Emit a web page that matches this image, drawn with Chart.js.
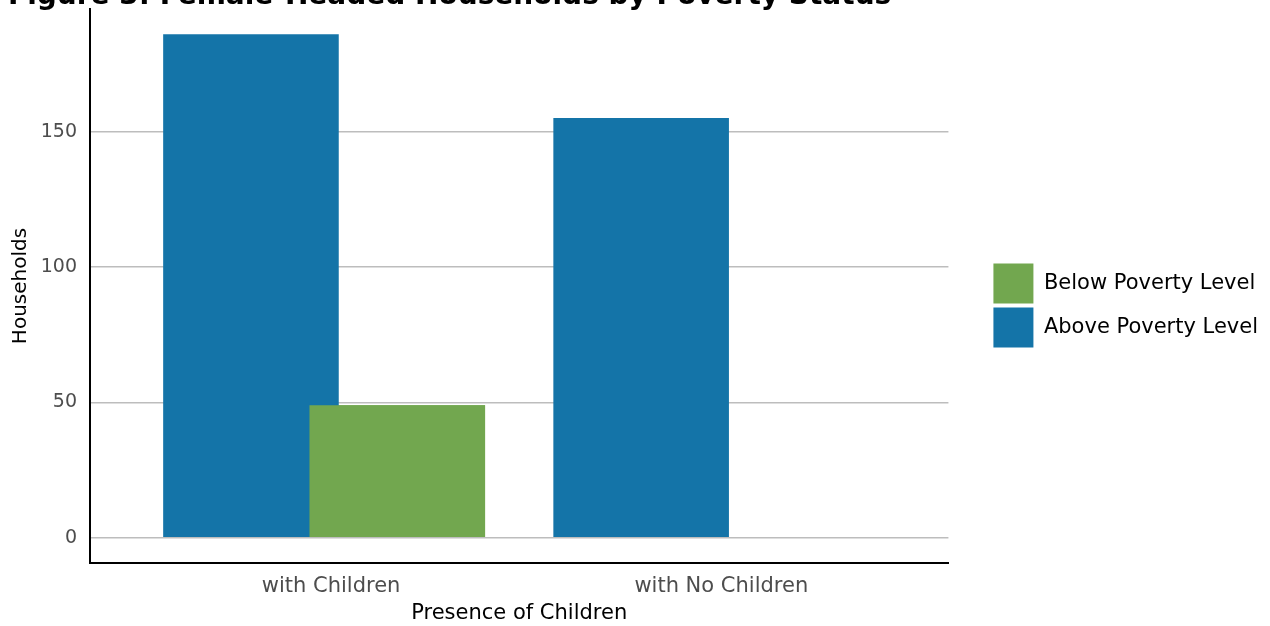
<!DOCTYPE html>
<html>
<head>
<meta charset="utf-8">
<script src="https://cdn.jsdelivr.net/npm/chart.js@4.4.1/dist/chart.umd.min.js"></script>
<style>
  html, body { margin: 0; padding: 0; background: #fff; }
  #chart { display: block; }
</style>
</head>
<body>
<canvas id="chart" width="1270" height="626"></canvas>
<script>
/* global Chart */

const categories = ['with Children', 'with No Children'];
const belowPoverty = [49, 0];
const abovePoverty = [186, 155];
const yTicks = [0, 50, 100, 150];

const TITLE = 'Figure 3: Female-Headed Households by Poverty Status';
const FONT = "'DejaVu Sans', sans-serif";
const BLUE = '#1474a8';
const GREEN = '#72a74f';

// bars sit on a numeric x axis (1, 2) so the group can be padded like a dodge plot
const toPoints = (vals) => vals.map((v, i) => ({ x: i + 1, y: v }));

// figure title, partly clipped by the top edge
const figureTitle = {
  id: 'figureTitle',
  afterDraw(chart) {
    const { ctx } = chart;
    ctx.save();
    ctx.font = `bold 28px ${FONT}`;
    ctx.fillStyle = '#000';
    ctx.textBaseline = 'alphabetic';
    ctx.textAlign = 'left';
    ctx.fillText(TITLE, 8, 4);
    ctx.restore();
  },
};

// green series is drawn over the blue one where they overlap
const greenOnTop = {
  id: 'greenOnTop',
  afterDatasetsDraw(chart) {
    const meta = chart.getDatasetMeta(1);
    if (meta.visible) meta.controller.draw();
  },
};

new Chart(document.getElementById('chart'), {
  type: 'bar',
  data: {
    datasets: [
      { label: 'Above Poverty Level', data: toPoints(abovePoverty), backgroundColor: BLUE },
      { label: 'Below Poverty Level', data: toPoints(belowPoverty), backgroundColor: GREEN },
    ],
  },
  options: {
    responsive: false,
    animation: false,
    categoryPercentage: 0.75,
    barPercentage: 1.2,
    borderWidth: 0,
    layout: { padding: { top: 9, right: 2, bottom: 24, left: 0 } },
    plugins: {
      tooltip: { enabled: false },
      legend: {
        position: 'right',
        reverse: true,
        maxWidth: 400,
        labels: {
          boxWidth: 40, boxHeight: 40, padding: 4,
          color: '#000',
          font: { family: FONT, size: 21 },
        },
      },
    },
    scales: {
      x: {
        type: 'linear',
        min: 0.4, max: 2.6,
        offset: false,
        grid: { display: false, offset: false },
        border: { display: true, color: '#000', width: 2 },
        afterBuildTicks: (s) => { s.ticks = categories.map((c, i) => ({ value: i + 1 })); },
        afterFit: (s) => { s.height = 39; s.paddingLeft = 0; s.paddingRight = 0; },
        ticks: {
          color: '#4d4d4d', padding: 3, labelOffset: 7, maxRotation: 0, autoSkip: false,
          font: { family: FONT, size: 21 },
          callback: (v) => categories[v - 1],
        },
        title: {
          display: true, text: 'Presence of Children', color: '#000',
          font: { family: FONT, size: 21 }, padding: { top: 0, bottom: -24.5 },
        },
      },
      y: {
        min: -9.3, max: 195.3,
        grid: { color: '#bdbdbd', lineWidth: 1.5, drawTicks: false },
        border: { display: true, color: '#000', width: 2 },
        afterBuildTicks: (s) => { s.ticks = yTicks.map((v) => ({ value: v })); },
        afterFit: (s) => { s.width = 90; s.paddingTop = 0; s.paddingBottom = 0; },
        ticks: { color: '#4d4d4d', padding: 13, font: { family: FONT, size: 19 } },
        title: {
          display: true, text: 'Households', color: '#000',
          font: { family: FONT, size: 20 }, padding: { top: 9, bottom: 0 },
        },
      },
      // empty spacer between the plot and the legend
      gap: {
        position: 'right',
        display: true,
        grid: { display: false },
        border: { display: false },
        ticks: { display: false },
        afterFit: (s) => { s.width = 41; },
      },
    },
  },
  plugins: [greenOnTop, figureTitle],
});
</script>
</body>
</html>
